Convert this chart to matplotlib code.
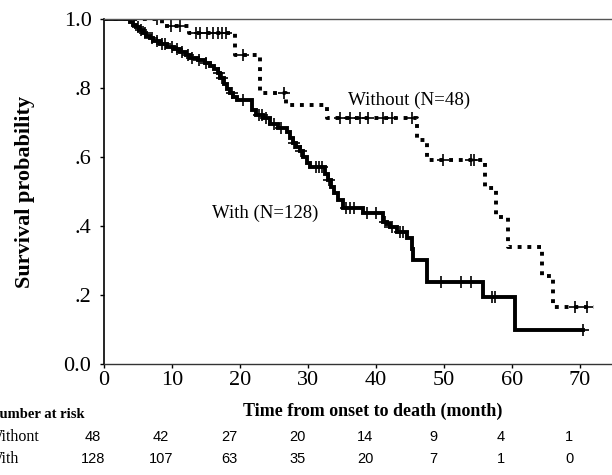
import numpy as np
import matplotlib
matplotlib.use("Agg")
import matplotlib.pyplot as plt
import matplotlib.transforms as mtransforms

# ---------------- data ----------------
# "With" group: step times (month) and survival after each step
with_times = [3.8, 4.2, 4.7, 5.2, 5.7, 6.2, 6.7, 7.2, 8.2, 9.3, 10.3, 11.2, 12.0, 12.6,
              13.8, 14.8, 15.6, 16.2, 16.7, 17.1, 17.6, 18.1, 18.5, 19.0, 19.5, 21.8,
              22.3, 23.4, 24.4, 25.6, 26.9, 27.4, 27.8, 28.3, 28.8, 29.3, 29.8, 30.3,
              32.5, 32.9, 33.4, 33.8, 34.4, 35.1, 38.1, 41.0, 41.6, 42.1, 43.1, 44.6,
              45.3, 45.5, 47.5, 55.7, 60.4]
with_surv = [0.992, 0.984, 0.976, 0.968, 0.960, 0.952, 0.944, 0.936, 0.928, 0.920, 0.912,
             0.904, 0.896, 0.888, 0.880, 0.872, 0.864, 0.856, 0.844, 0.828, 0.812, 0.798,
             0.786, 0.775, 0.764, 0.735, 0.722, 0.712, 0.695, 0.684, 0.672, 0.656, 0.641,
             0.630, 0.618, 0.600, 0.582, 0.571, 0.550, 0.533, 0.514, 0.496, 0.474, 0.452,
             0.438, 0.412, 0.405, 0.397, 0.383, 0.365, 0.332, 0.301, 0.238, 0.194, 0.099]
with_censor = [5.0, 5.5, 6.0, 7.0, 7.8, 8.5, 9.0, 10.0, 10.8, 11.5, 12.3, 13.0, 14.0, 15.0,
               16.9, 17.3, 18.8, 20.5, 22.8, 23.2, 23.8, 25.0, 26.0, 28.0, 29.0, 31.2,
               31.6, 32.0, 33.1, 35.6, 36.2, 36.8, 38.6, 40.0, 41.3, 42.4, 43.5, 44.0,
               49.5, 52.5, 54.0, 57.0, 57.5, 70.4]
with_end = 70.4

# "Without" group
without_times = [8.5, 12.5, 19.2, 22.9, 26.8, 32.8, 46.0, 47.5, 56.0, 57.6, 59.4, 64.4, 66.0]
without_surv = [0.979, 0.958, 0.896, 0.786, 0.750, 0.713, 0.650, 0.590, 0.510, 0.426,
                0.339, 0.256, 0.165]
without_censor = [7.8, 9.8, 11.2, 13.5, 14.1, 15.1, 16.0, 16.8, 17.4, 18.0, 20.4, 26.5,
                  34.7, 36.2, 37.6, 38.8, 41.0, 42.4, 45.3, 49.9, 54.0, 54.4, 69.3, 71.0]
without_end = 72.0

# risk table
risk_times = [0, 10, 20, 30, 40, 50, 60, 70]
risk_without = [48, 42, 27, 20, 14, 9, 4, 1]
risk_with = [128, 107, 63, 35, 20, 7, 1, 0]

xticks = [0, 10, 20, 30, 40, 50, 60, 70]
yticks = [0.0, 0.2, 0.4, 0.6, 0.8, 1.0]
ytick_labels = ["0.0", ".2", ".4", ".6", ".8", "1.0"]

# ---------------- plotting ----------------
SERIF = ["Liberation Serif", "DejaVu Serif"]
fig = plt.figure(figsize=(6.12, 4.75), dpi=100)
ax = fig.add_axes([104 / 612, (475 - 364) / 475, (612 - 104) / 612, (364 - 19) / 475])


def km_xy(times, surv, end):
    x = [0.0] + list(times) + [end]
    y = [1.0] + list(surv) + [surv[-1]]
    return x, y


def surv_at(times, surv, t):
    idx = np.searchsorted(np.asarray(times), t, side="right") - 1
    return 1.0 if idx < 0 else surv[idx]


# With curve (solid)
x, y = km_xy(with_times, with_surv, with_end)
ax.step(x, y, where="post", color="black", lw=2.8, solid_joinstyle="miter")
cy = [surv_at(with_times, with_surv, t) for t in with_censor]
ax.plot(with_censor, cy, ls="none", marker="+", ms=8, mew=1.2, color="black")

# Without curve (dotted)
x, y = km_xy(without_times, without_surv, without_end)
ax.step(x, y, where="post", color="black", lw=2.8, ls=(0, (1, 1.5)))
cy = [surv_at(without_times, without_surv, t) for t in without_censor]
ax.plot(without_censor, cy, ls="none", marker="+", ms=8, mew=1.2, color="black")

ax.set_xlim(0, 74.7)
ax.set_ylim(0, 1.0)
ax.set_xticks(xticks)
ax.set_xticklabels([str(v) for v in xticks], fontsize=16, family=SERIF)
ax.set_yticks(yticks)
ax.set_yticklabels(ytick_labels, fontsize=16, family=SERIF)
ax.tick_params(direction="out", length=3, width=1)
ax.tick_params(axis="y", pad=6)
ax.tick_params(axis="x", pad=2)

ax.spines["right"].set_visible(False)
ax.spines["top"].set_linestyle((0, (1, 1)))
ax.spines["top"].set_color("#555555")
ax.spines["top"].set_linewidth(1)
ax.spines["bottom"].set_color("#333333")
ax.spines["bottom"].set_linewidth(1)
ax.spines["left"].set_linewidth(1.2)

ax.text(44.9, 0.765, "Without (N=48)", fontsize=13.7, family=SERIF, ha="center", va="center")
ax.text(23.7, 0.438, "With (N=128)", fontsize=13.5, family=SERIF, ha="center", va="center")

fig.text(25 / 612, 1 - 192 / 475, "Survival probability", rotation=90, fontsize=16,
         fontweight="bold", family=SERIF, ha="center", va="center")
fig.text(373 / 612, 1 - 411 / 475, "Time from onset to death (month)", fontsize=13,
         fontweight="bold", family=SERIF, ha="center", va="center")

fig.text(-11 / 612, 1 - 415 / 475, "Number at risk", fontsize=10.5, fontweight="bold",
         family=SERIF, ha="left", va="center")
fig.text(-12 / 612, 1 - 437 / 475, "Withont", fontsize=11.5, family=SERIF, ha="left", va="center")
fig.text(-12 / 612, 1 - 459 / 475, "With", fontsize=11.5, family=SERIF, ha="left", va="center")

trans = mtransforms.blended_transform_factory(ax.transData, fig.transFigure)
for t, a, b in zip(risk_times, risk_without, risk_with):
    ax.text(t - 1.6, 1 - 437 / 475, str(a), transform=trans, fontsize=10.5,
            family=["Liberation Sans"], ha="center", va="center", clip_on=False)
    ax.text(t - 1.6, 1 - 459 / 475, str(b), transform=trans, fontsize=10.5,
            family=["Liberation Sans"], ha="center", va="center", clip_on=False)

fig.savefig("out.png", dpi=100)
